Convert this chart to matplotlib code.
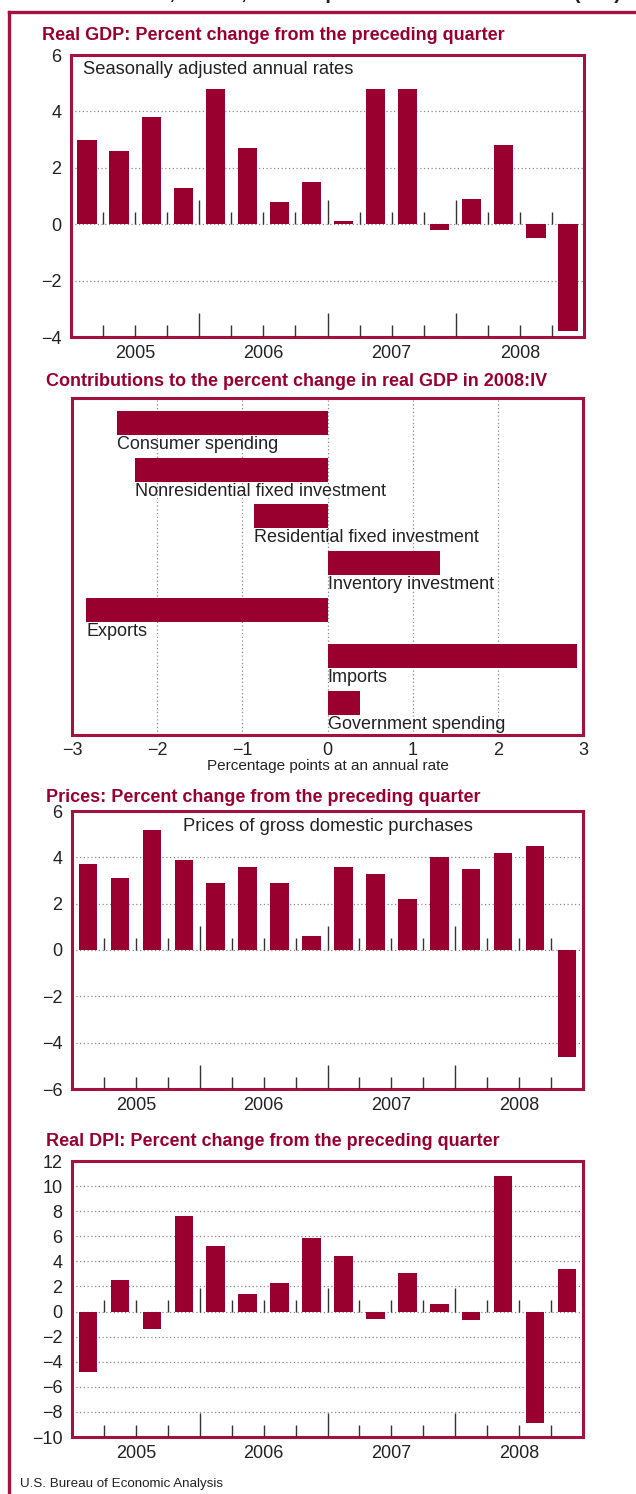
import numpy as np
import matplotlib
matplotlib.use('Agg')
import matplotlib.pyplot as plt
from matplotlib import font_manager
from matplotlib.lines import Line2D

# Donnees
years = ['2005', '2006', '2007', '2008']
gdp = [3.0, 2.6, 3.8, 1.3, 4.8, 2.7, 0.8, 1.5, 0.1, 4.8, 4.8, -0.2, 0.9, 2.8, -0.5, -3.8]
prices = [3.7, 3.1, 5.2, 3.9, 2.9, 3.6, 2.9, 0.6, 3.6, 3.3, 2.2, 4.0, 3.5, 4.2, 4.5, -4.6]
dpi = [-4.8, 2.5, -1.4, 7.6, 5.2, 1.4, 2.3, 5.9, 4.4, -0.6, 3.1, 0.6, -0.7, 10.8, -8.9, 3.4]
components = ['Consumer spending', 'Nonresidential fixed investment',
              'Residential fixed investment', 'Inventory investment',
              'Exports', 'Imports', 'Government spending']
contrib = [-2.47, -2.26, -0.86, 1.32, -2.83, 2.93, 0.38]

# Couleurs et polices
RED = '#990030'
FRAME = '#a3123f'
GRID = '#8a8a8a'
TXT = '#222222'

names = {f.name for f in font_manager.fontManager.ttflist}
NARROW = 'Liberation Sans Narrow' if 'Liberation Sans Narrow' in names else None
REG = 'Liberation Sans' if 'Liberation Sans' in names else 'DejaVu Sans'
plt.rcParams['font.family'] = REG

# sans police etroite, on reduit la taille pour garder la meme largeur
if NARROW:
    TITLE_FS, SMALL_FS, FOOT_FS = 15, 12, 11
else:
    NARROW = REG
    TITLE_FS, SMALL_FS, FOOT_FS = 13, 11, 9.6

W, H = 636, 1494
fig = plt.figure(figsize=(W / 100, H / 100), dpi=100)


def box(l, t, r, b):
    return [l / W, 1 - b / H, (r - l) / W, (b - t) / H]


def style_frame(ax):
    for s in ax.spines.values():
        s.set_color(FRAME)
        s.set_linewidth(2.2)


def quarter_panel(rect, values, ylim, step, width, title, title_xy, note=None):
    ax = fig.add_axes(box(*rect))
    n = len(values)
    x = np.arange(n)
    ax.bar(x, values, width=width, color=RED, zorder=3)
    ax.set_xlim(-0.5, n - 0.5)
    ax.set_ylim(*ylim)
    yt = np.arange(ylim[0], ylim[1] + step / 2, step)
    ax.set_yticks(yt)
    ax.set_yticklabels([f'{v:g}'.replace('-', '\u2212') for v in yt])
    for v in yt[1:-1]:
        ax.axhline(v, color=GRID, lw=0.9, ls=(0, (1, 2)), zorder=1)
    # petits traits aux limites des trimestres (ligne zero et bas)
    h_px = (rect[3] - rect[1])
    span = ylim[1] - ylim[0]
    short = 12 * span / h_px
    long_ = 24 * span / h_px
    for b in np.arange(0.5, n - 1, 1.0):
        L = long_ if (b + 0.5) % 4 == 0 else short
        ax.vlines(b, 0, L, color='#333333', lw=1, zorder=4)
        ax.vlines(b, ylim[0], ylim[0] + L, color='#333333', lw=1, zorder=4)
    ax.set_xticks([1.5, 5.5, 9.5, 13.5])
    ax.set_xticklabels(years)
    ax.tick_params(axis='both', length=0, labelsize=13, colors=TXT)
    ax.tick_params(axis='y', pad=7)
    ax.tick_params(axis='x', pad=5.5)
    style_frame(ax)
    fig.text(title_xy[0] / W, 1 - title_xy[1] / H, title, family=NARROW,
             weight='bold', fontsize=TITLE_FS, color=RED, va='center', ha='left')
    if note is not None:
        ax.text(note[0], note[1], note[2], transform=ax.transAxes, ha=note[3],
                va='center', fontsize=13.2, color=TXT)
    return ax


# Panneau 1 : PIB reel
quarter_panel((71, 55, 584, 337), gdp, (-4, 6), 2, 0.6,
              'Real GDP: Percent change from the preceding quarter', (42, 35),
              (0.023, 0.947, 'Seasonally adjusted annual rates', 'left'))

# Panneau 2 : contributions
ax2 = fig.add_axes(box(72, 398, 583, 735))
ypos = np.arange(len(components))
ax2.barh(ypos, contrib, height=0.52, color=RED, zorder=3)
ax2.set_xlim(-3, 3)
ax2.set_ylim(6.686, -0.536)
for v in [-2, -1, 0, 1, 2]:
    ax2.axvline(v, color=GRID, lw=0.9, ls=(0, (1, 2)), zorder=1)
for i, (name, v) in enumerate(zip(components, contrib)):
    ax2.text(min(v, 0), i + 0.28, name, ha='left', va='top', fontsize=13,
             color=TXT, zorder=5)
ax2.set_yticks([])
ax2.set_xticks([-3, -2, -1, 0, 1, 2, 3])
ax2.tick_params(axis='x', length=0, labelsize=13, colors=TXT, pad=5)
ax2.set_xlabel('Percentage points at an annual rate', family=NARROW,
               fontsize=SMALL_FS, color=TXT, labelpad=0)
style_frame(ax2)
fig.text(46 / W, 1 - 382 / H,
         'Contributions to the percent change in real GDP in 2008:IV',
         family=NARROW, weight='bold', fontsize=TITLE_FS, color=RED, va='center')

# Panneau 3 : prix
quarter_panel((72, 811, 583, 1089), prices, (-6, 6), 2, 0.58,
              'Prices: Percent change from the preceding quarter', (46, 797),
              (0.5, 0.946, 'Prices of gross domestic purchases', 'center'))

# Panneau 4 : revenu disponible reel
quarter_panel((72, 1161, 583, 1437), dpi, (-10, 12), 2, 0.58,
              'Real DPI: Percent change from the preceding quarter', (46, 1142))

# Cadre exterieur et titre coupe en haut (comme sur l'original)
fig.add_artist(Line2D([9 / W, 9 / W], [0, 1 - 12 / H], color=FRAME, lw=2.4))
fig.add_artist(Line2D([9 / W, 1], [1 - 12 / H, 1 - 12 / H], color=FRAME, lw=2.4))
fig.text(80 / W, 1 + 1 / H, 'Real GDP, Prices, and Disposable Personal Income (DPI)',
         family=NARROW, weight='bold', fontsize=TITLE_FS + 1.5, color=TXT,
         va='baseline')

fig.text(20 / W, 1 - 1484 / H, 'U.S. Bureau of Economic Analysis', family=NARROW,
         fontsize=FOOT_FS, color=TXT, va='center')

fig.savefig('out.png', dpi=100, facecolor='white')
